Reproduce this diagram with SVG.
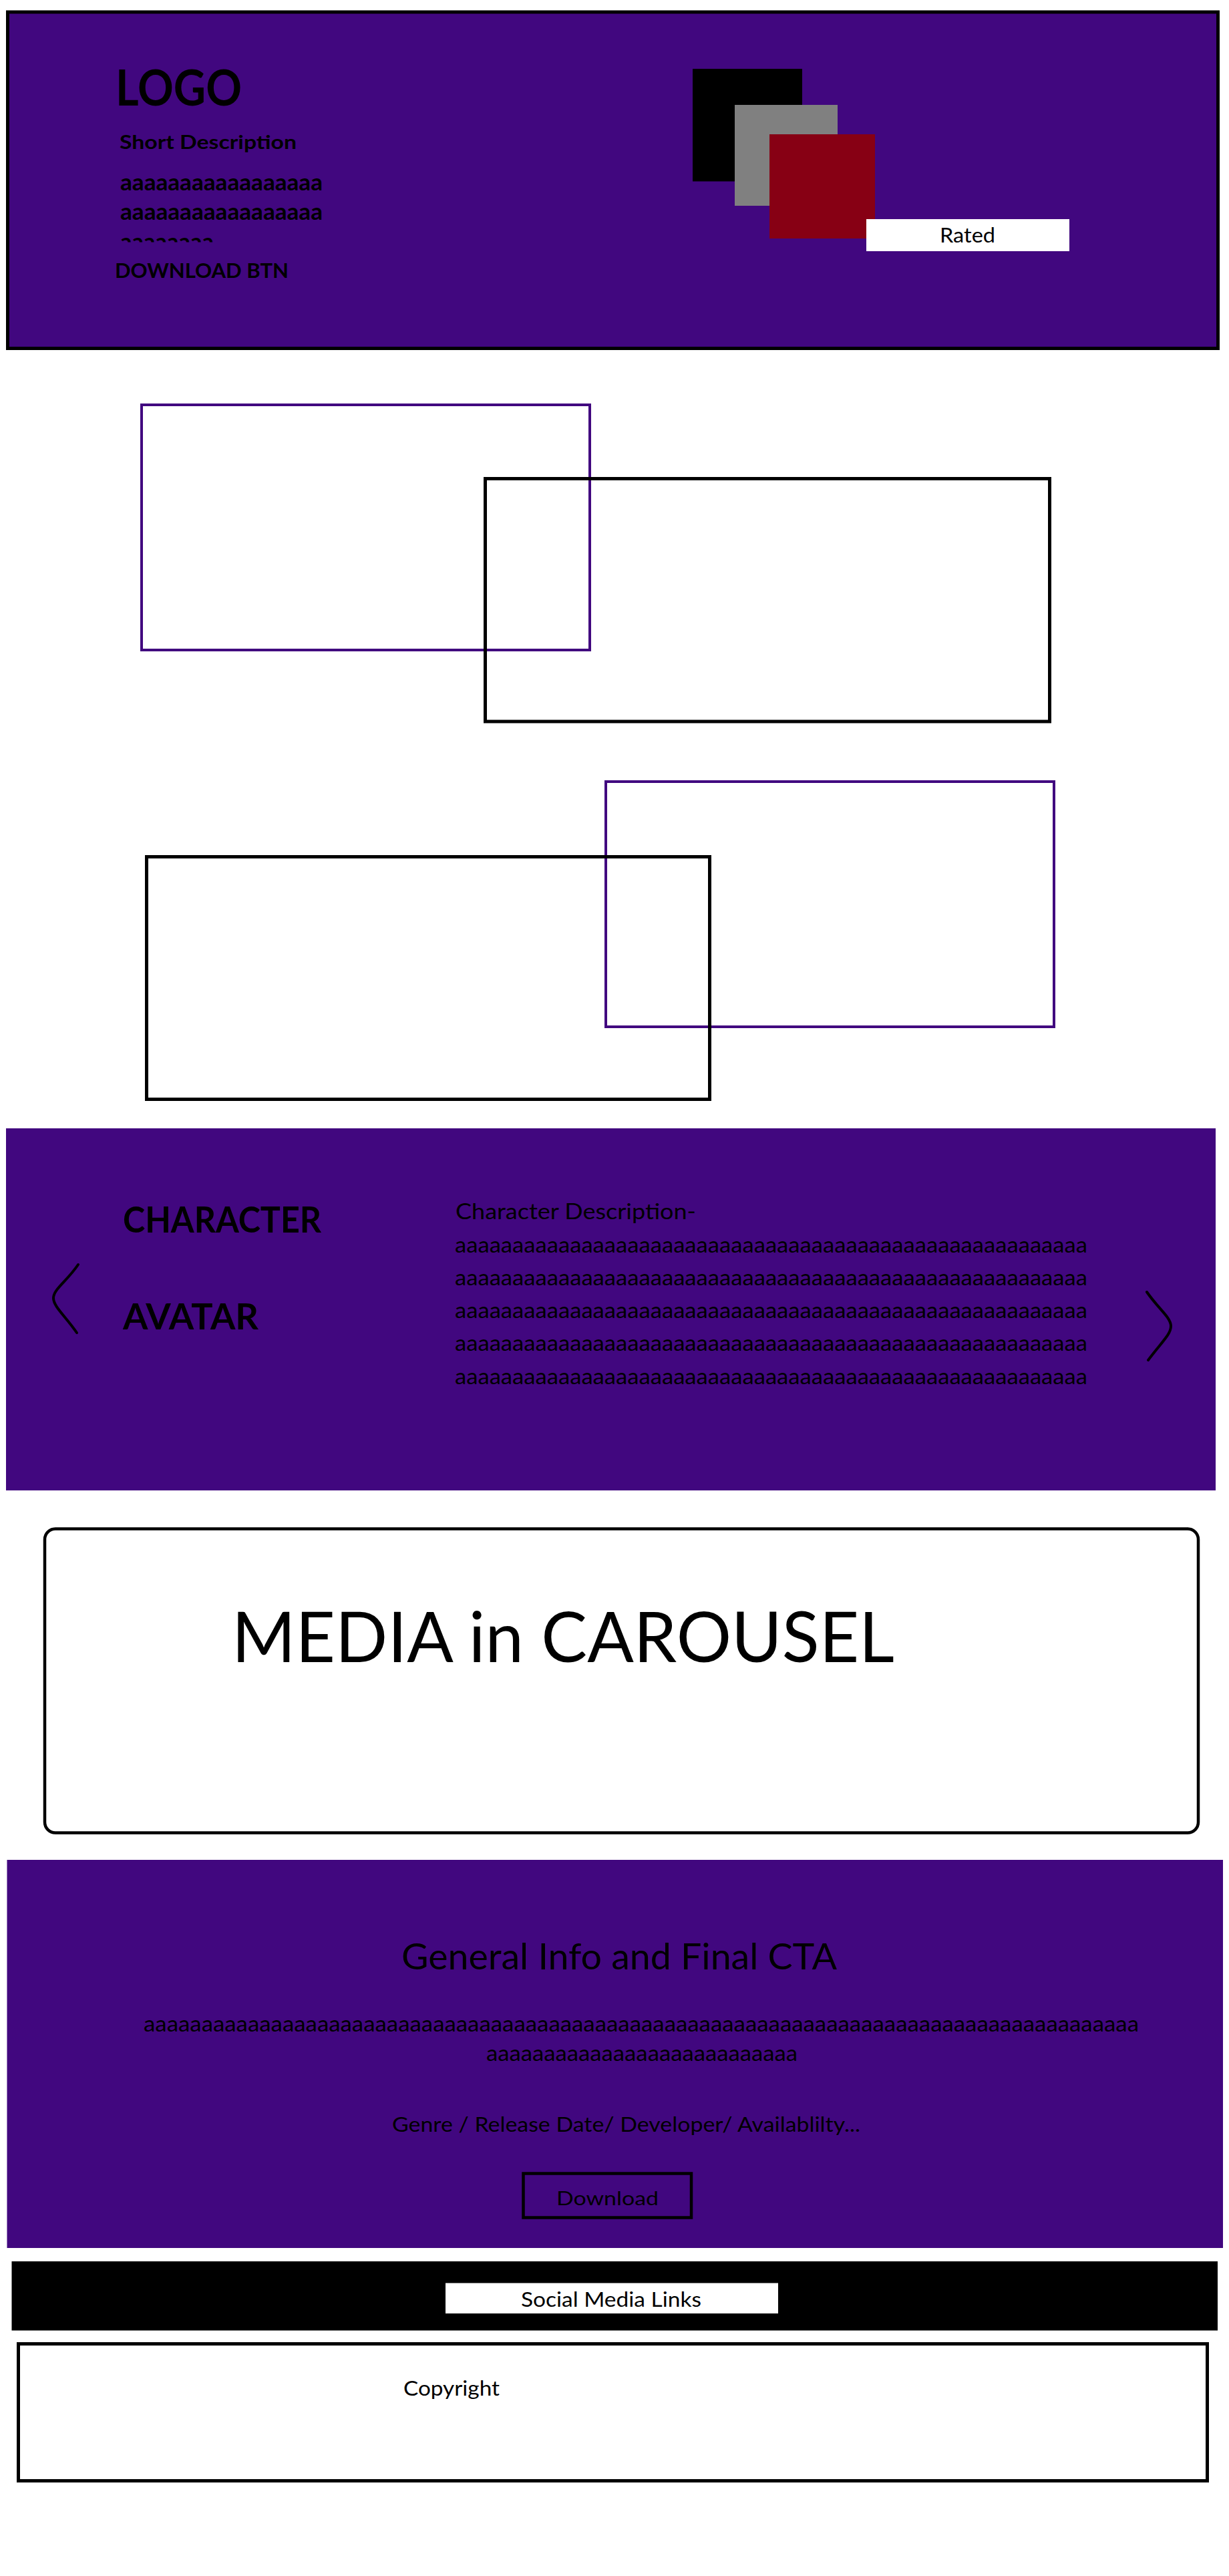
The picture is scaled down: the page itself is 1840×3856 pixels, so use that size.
<svg xmlns="http://www.w3.org/2000/svg" width="1840" height="3856" viewBox="0 0 1840 3856">
<style>
text{font-family:Lato,"Liberation Sans",sans-serif;fill:#000}
.b{font-weight:bold}
.band{fill:#41077f}
.po{fill:none;stroke:#41077f;stroke-width:4}
.bo{fill:none;stroke:#000;stroke-width:5}
.chev{fill:none;stroke:#000;stroke-width:4;stroke-linecap:round}
</style>
<defs>
<clipPath id="clip3"><rect x="150" y="340" width="400" height="22.5"/></clipPath>
</defs>
<rect width="1840" height="3856" fill="#fff"/>

<g id="header">
<rect x="11.5" y="18" width="1812" height="503.5" class="band" stroke="#000" stroke-width="5"/>
<text x="173" y="158" font-size="74" class="b" textLength="189" lengthAdjust="spacingAndGlyphs">LOGO</text>
<text x="179" y="223" font-size="29" class="b" textLength="265" lengthAdjust="spacingAndGlyphs">Short Description</text>
<text x="180" y="284.5" font-size="34" class="b" textLength="303" lengthAdjust="spacingAndGlyphs">aaaaaaaaaaaaaaaaa</text>
<text x="180" y="329" font-size="34" class="b" textLength="303" lengthAdjust="spacingAndGlyphs">aaaaaaaaaaaaaaaaa</text>
<text x="180" y="373.5" font-size="34" class="b" textLength="140" lengthAdjust="spacingAndGlyphs" clip-path="url(#clip3)">aaaaaaaa</text>
<text x="172" y="416" font-size="31" class="b" textLength="260" lengthAdjust="spacingAndGlyphs">DOWNLOAD BTN</text>
<rect x="1037" y="103" width="164" height="168.5" fill="#000"/>
<rect x="1100" y="157" width="154" height="151" fill="#808080"/>
<rect x="1152" y="201" width="158" height="156" fill="#870014"/>
<rect x="1297" y="328" width="304" height="48" fill="#fff"/>
<text x="1407" y="362.5" font-size="31" textLength="83" lengthAdjust="spacingAndGlyphs">Rated</text>
</g>

<g id="feature-blocks">
<rect id="feature-1a" x="212" y="606" width="671" height="367" class="po"/>
<rect id="feature-1b" x="726.5" y="716.5" width="845" height="363.5" class="bo"/>
<rect id="feature-2a" x="907" y="1170" width="671" height="367" class="po"/>
<rect id="feature-2b" x="219.5" y="1282.5" width="843" height="363" class="bo"/>
</g>

<g id="character">
<rect x="9" y="1689" width="1811" height="542" class="band"/>
<text x="184" y="1844.5" font-size="54" class="b" textLength="297" lengthAdjust="spacingAndGlyphs">CHARACTER</text>
<text x="184" y="1990" font-size="54" class="b" textLength="203" lengthAdjust="spacingAndGlyphs">AVATAR</text>
<text x="682" y="1825" font-size="32" textLength="360" lengthAdjust="spacingAndGlyphs">Character Description-</text>
<text x="681" y="1875" font-size="33" textLength="947" lengthAdjust="spacingAndGlyphs">aaaaaaaaaaaaaaaaaaaaaaaaaaaaaaaaaaaaaaaaaaaaaaaaaaaaaaa</text>
<text x="681" y="1924" font-size="33" textLength="947" lengthAdjust="spacingAndGlyphs">aaaaaaaaaaaaaaaaaaaaaaaaaaaaaaaaaaaaaaaaaaaaaaaaaaaaaaa</text>
<text x="681" y="1973" font-size="33" textLength="947" lengthAdjust="spacingAndGlyphs">aaaaaaaaaaaaaaaaaaaaaaaaaaaaaaaaaaaaaaaaaaaaaaaaaaaaaaa</text>
<text x="681" y="2022" font-size="33" textLength="947" lengthAdjust="spacingAndGlyphs">aaaaaaaaaaaaaaaaaaaaaaaaaaaaaaaaaaaaaaaaaaaaaaaaaaaaaaa</text>
<text x="681" y="2072" font-size="33" textLength="947" lengthAdjust="spacingAndGlyphs">aaaaaaaaaaaaaaaaaaaaaaaaaaaaaaaaaaaaaaaaaaaaaaaaaaaaaaa</text>
<path class="chev" d="M117,1893 C100,1918 80,1930 80,1943 C80,1956 98,1970 115,1995"/>
<path class="chev" d="M1717,1934 C1735,1960 1753,1972 1753,1985 C1753,1998 1738,2010 1719,2036"/>
</g>

<g id="media">
<rect x="67" y="2288.5" width="1727" height="455" rx="16" ry="16" fill="#fff" stroke="#000" stroke-width="4.5"/>
<text x="347" y="2488" font-size="105" textLength="992" lengthAdjust="spacingAndGlyphs">MEDIA in CAROUSEL</text>
</g>

<g id="general-info">
<rect x="10.5" y="2784" width="1820.5" height="581" class="band"/>
<text x="601" y="2948" font-size="55" textLength="652" lengthAdjust="spacingAndGlyphs">General Info and Final CTA</text>
<text x="215" y="3041" font-size="33" textLength="1490" lengthAdjust="spacingAndGlyphs">aaaaaaaaaaaaaaaaaaaaaaaaaaaaaaaaaaaaaaaaaaaaaaaaaaaaaaaaaaaaaaaaaaaaaaaaaaaaaaaaaaaaaa</text>
<text x="728" y="3085" font-size="33" textLength="466" lengthAdjust="spacingAndGlyphs">aaaaaaaaaaaaaaaaaaaaaaaaaaa</text>
<text x="587" y="3191" font-size="30" textLength="701" lengthAdjust="spacingAndGlyphs">Genre / Release Date/ Developer/ Availablilty...</text>
<rect x="783.5" y="3253.5" width="251.5" height="66" fill="none" stroke="#000" stroke-width="4.5"/>
<text x="833" y="3300.5" font-size="29" textLength="153" lengthAdjust="spacingAndGlyphs">Download</text>
</g>

<g id="social">
<rect x="17.5" y="3385" width="1805.5" height="103.5" fill="#000"/>
<rect x="667" y="3417.5" width="498" height="45.5" fill="#fff"/>
<text x="780" y="3452.5" font-size="30" textLength="270" lengthAdjust="spacingAndGlyphs">Social Media Links</text>
</g>

<g id="footer">
<rect x="27.5" y="3508.5" width="1780" height="205" fill="#fff" stroke="#000" stroke-width="5"/>
<text x="604" y="3586" font-size="30" textLength="144" lengthAdjust="spacingAndGlyphs">Copyright</text>
</g>
</svg>
